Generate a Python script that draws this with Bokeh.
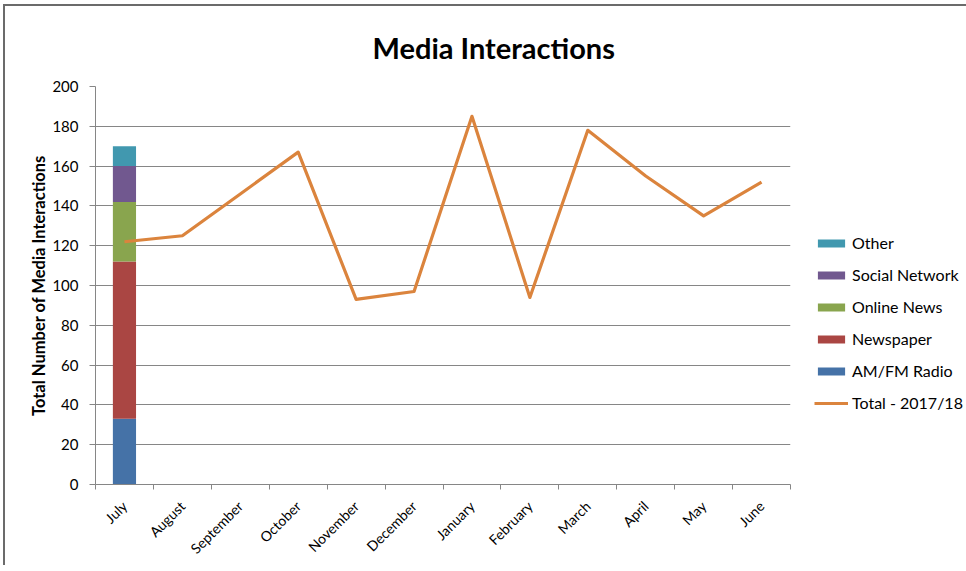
import math
from bokeh.plotting import figure
from bokeh.models import Range1d, FixedTicker, Legend, LegendItem, ColumnDataSource
from bokeh.embed import file_html
from bokeh.resources import INLINE

months = ["July", "August", "September", "October", "November", "December",
          "January", "February", "March", "April", "May", "June"]
total_2017_18 = [122, 125, 146, 167, 93, 97, 185, 94, 178, 155, 135, 152]

stack_names = ["AM/FM Radio", "Newspaper", "Online News", "Social Network", "Other"]
july_values = [33, 79, 30, 18, 10]
stack_colors = ["#4572A7", "#AA4643", "#89A54E", "#71588F", "#4198AF"]
line_color = "#DB843D"
y_ticks = [0, 20, 40, 60, 80, 100, 120, 140, 160, 180, 200]

FONT = "Lato"

p = figure(frame_width=695, frame_height=398, output_backend="svg", toolbar_location=None,
           x_range=Range1d(0, len(months)), y_range=Range1d(0, 200),
           min_border_left=90, min_border_right=170, min_border_top=80,
           min_border_bottom=80)
p.styles = {"border-top": "2px solid #6b6b6b", "border-left": "2px solid #6b6b6b",
            "margin-left": "3px", "margin-top": "4px"}

centers = [i + 0.5 for i in range(len(months))]

src = ColumnDataSource({"x": [centers[0]], **{n: [v] for n, v in zip(stack_names, july_values)}})
bars = p.vbar_stack(stack_names, x="x", width=0.4, color=stack_colors, line_color=None, source=src)

ln = p.line(centers, total_2017_18, line_width=3.2, color=line_color, line_join="round")

# title
p.title.text = "Media Interactions"
p.title.align = "left"
p.title.offset = 277
p.title.standoff = 43
p.title.text_font = FONT
p.title.text_font_size = "29px"
p.title.text_font_style = "bold"
p.title.text_color = "#000000"

# axes
xa = p.xaxis[0]
xa.ticker = FixedTicker(ticks=centers, minor_ticks=list(range(len(months) + 1)))
xa.major_label_overrides = {c: m for c, m in zip(centers, months)}
xa.major_tick_line_color = None
xa.minor_tick_in = 0
xa.minor_tick_out = 5
xa.minor_tick_line_color = "#868686"
xa.axis_line_color = "#868686"
xa.major_label_orientation = math.pi / 4
xa.major_label_text_font = FONT
xa.major_label_text_font_size = "14px"
xa.major_label_text_color = "#000000"
xa.major_label_standoff = 13

ya = p.yaxis[0]
ya.ticker = FixedTicker(ticks=y_ticks, minor_ticks=[])
ya.major_tick_in = 0
ya.major_tick_out = 6
ya.major_tick_line_color = "#868686"
ya.axis_line_color = "#868686"
ya.minor_tick_line_color = None
ya.major_label_text_font = FONT
ya.major_label_text_font_size = "15px"
ya.major_label_text_color = "#000000"
ya.major_label_standoff = 11
ya.axis_label = "Total Number of Media Interactions"
ya.axis_label_text_font = FONT
ya.axis_label_text_font_size = "16.5px"
ya.axis_label_text_font_style = "bold"
ya.axis_label_text_color = "#000000"
ya.axis_label_standoff = 0

p.xgrid.grid_line_color = None
p.ygrid.grid_line_color = "#868686"
p.ygrid.ticker = FixedTicker(ticks=y_ticks)
p.outline_line_color = None

items = [LegendItem(label=n, renderers=[r]) for n, r in zip(stack_names, bars)][::-1]
items.append(LegendItem(label="Total - 2017/18", renderers=[ln]))
legend = Legend(items=items, location=(24, 72))
legend.glyph_width = 34
legend.glyph_height = 10
legend.label_height = 10
legend.spacing = 13
legend.padding = 0
legend.margin = 0
legend.label_standoff = 4
legend.label_text_font = FONT
legend.label_text_font_size = "16px"
legend.label_text_color = "#000000"
legend.border_line_color = None
legend.background_fill_alpha = 0
p.add_layout(legend, "right")

open("out.html", "w").write(file_html(p, INLINE))
